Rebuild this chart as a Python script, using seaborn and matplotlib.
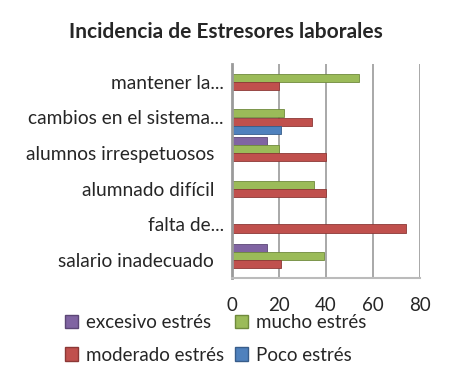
import matplotlib
matplotlib.use("Agg")
import matplotlib.pyplot as plt
import seaborn as sns
import pandas as pd
from matplotlib.patches import Patch

categories = ["mantener la...", "cambios en el sistema...", "alumnos irrespetuosos\u00a0\u00a0",
              "alumnado difícil\u00a0\u00a0", "falta de...", "salario inadecuado\u00a0\u00a0"]
series = ["excesivo estrés", "mucho estrés", "moderado estrés", "Poco estrés"]
excesivo = [0, 0, 15, 0, 0, 15]
mucho = [54, 22, 20, 35, 0, 39]
moderado = [20, 34, 40, 40, 74, 21]
poco = [0, 21, 0, 0, 0, 0]
xticks = [0, 20, 40, 60, 80]
colors = ["#8064A2", "#9BBB59", "#C0504D", "#4F81BD"]
edges = ["#5C4776", "#6F8A3C", "#8C3836", "#385D8A"]

rows = []
for name, vals in zip(series, [excesivo, mucho, moderado, poco]):
    for c, v in zip(categories, vals):
        rows.append({"cat": c, "serie": name, "valor": v})
df = pd.DataFrame(rows)

sns.set_style("white")
plt.rcParams["font.family"] = ["Lato", "DejaVu Sans"]

fig = plt.figure(figsize=(4.54, 3.87), dpi=100)
ax = fig.add_axes([232 / 454, 1 - 278 / 387, (420 - 232) / 454, (278 - 64) / 387])

sns.barplot(data=df, y="cat", x="valor", hue="serie", order=categories,
            hue_order=series, palette=colors, orient="h", width=0.9,
            ax=ax, legend=False, saturation=1)
for i, cont in enumerate(ax.containers):
    for p in cont:
        p.set_edgecolor(edges[i])
        p.set_linewidth(0.6)

ax.set_xlim(0, 80)
ax.set_xticks(xticks)
ax.set_xticklabels([str(t) for t in xticks], fontsize=13.5)
ax.tick_params(axis="x", length=0, pad=14)
ax.tick_params(axis="y", length=0, pad=6, labelsize=13.8)
ax.set_xlabel("")
ax.set_ylabel("")
ax.grid(axis="x", color="#9A9A9A", linewidth=1.2)
ax.set_axisbelow(True)
for s in ["top", "right"]:
    ax.spines[s].set_visible(False)
ax.spines["left"].set_color("#9A9A9A")
ax.spines["left"].set_linewidth(2)
ax.spines["bottom"].set_color("#BBBBBB")
ax.spines["bottom"].set_linewidth(1.5)

fig.suptitle("Incidencia de Estresores laborales", x=0.497, y=1 - 32 / 387,
             va="center", fontsize=15, fontweight="bold")

handles = [Patch(facecolor=c, edgecolor=e) for c, e in zip(colors, edges)]
order = [0, 2, 1, 3]
fig.legend([handles[i] for i in order], [series[i] for i in order],
           loc="center", bbox_to_anchor=(0.475, 0.125), ncol=2, frameon=False,
           fontsize=13.5, handlelength=0.7, handleheight=0.7, handletextpad=0.4,
           columnspacing=0.6, labelspacing=0.85)

fig.savefig("out.png", dpi=100)
